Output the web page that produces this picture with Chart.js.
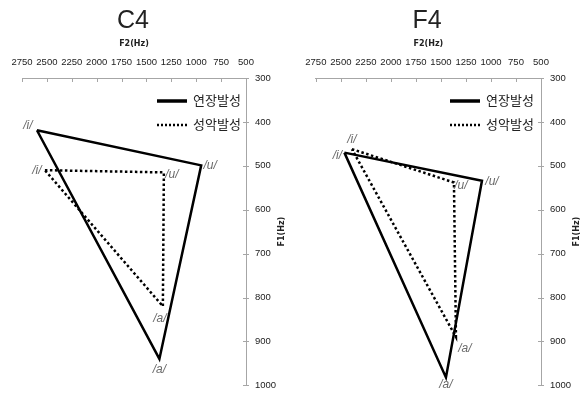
<!DOCTYPE html>
<html>
<head>
<meta charset="utf-8">
<script src="https://cdn.jsdelivr.net/npm/chart.js@4/dist/chart.umd.min.js"></script>
<style>
  body { margin: 0; background: #fff; }
  .box { position: absolute; top: 0; height: 400px; }
</style>
</head>
<body>
<div class="box" style="left:0;width:295px"><canvas id="chartC4"></canvas></div>
<div class="box" style="left:295px;width:292px"><canvas id="chartF4"></canvas></div>
<script>
// vowels in plotting order, polygon is closed back to the first one
const vowels = ['/i/', '/u/', '/a/'];
const seriesNames = ['연장발성', '성악발성'];

// C4 - F2 / F1 in Hz
const c4SolidF2 = [2600, 950, 1370];
const c4SolidF1 = [419, 499, 940];
const c4DottedF2 = [2520, 1325, 1335];
const c4DottedF1 = [510, 515, 820];

// F4
const f4SolidF2 = [2465, 1090, 1450];
const f4SolidF1 = [470, 534, 982];
const f4DottedF2 = [2390, 1370, 1350];
const f4DottedF1 = [462, 538, 890];

// axis ranges
const f2Min = 500, f2Max = 2750, f2Step = 250;
const f1Min = 300, f1Max = 1000, f1Step = 100;

const tickFont = { family: '"Liberation Sans Narrow", "Liberation Sans", sans-serif', size: 9.5 };
const axisGray = '#a6a6a6';

function toPoints(f2, f1) {
    const pts = f2.map((v, i) => ({ x: v, y: f1[i] }));
    pts.push(pts[0]); // close the triangle
    return pts;
}

// draws title, inward ticks, vowel labels, legend and F1 title
const decorPlugin = {
    id: 'decor',
    afterDraw(chart, args, opts) {
        const ctx = chart.ctx;
        const xs = chart.scales.x, ys = chart.scales.y;
        const area = chart.chartArea;
        ctx.save();

        // tick marks pointing into the plot
        ctx.strokeStyle = axisGray;
        ctx.lineWidth = 1;
        ctx.beginPath();
        xs.ticks.forEach(t => {
            const px = Math.round(xs.getPixelForValue(t.value)) + 0.5;
            ctx.moveTo(px, area.top);
            ctx.lineTo(px, area.top + 4);
        });
        ys.ticks.forEach(t => {
            const py = Math.round(ys.getPixelForValue(t.value)) + 0.5;
            ctx.moveTo(area.right - 3, py);
            ctx.lineTo(area.right + 3, py);
        });
        ctx.stroke();

        // chart title
        ctx.fillStyle = '#222';
        ctx.textAlign = 'center';
        ctx.textBaseline = 'middle';
        ctx.font = '25px "Liberation Sans", sans-serif';
        ctx.fillText(opts.title, opts.titleX, 21);

        // F1 axis title, reading bottom to top
        ctx.save();
        ctx.translate(282, (area.top + area.bottom) / 2);
        ctx.rotate(-Math.PI / 2);
        ctx.font = 'bold 8px "DejaVu Sans", sans-serif';
        ctx.fillText('F1(Hz)', 0, 0);
        ctx.restore();

        // vowel labels
        ctx.fillStyle = '#6a6a6a';
        ctx.font = 'italic 12px "Liberation Sans Narrow", "Liberation Sans", sans-serif';
        chart.data.datasets.forEach((ds, di) => {
            for (let i = 0; i < vowels.length; i++) {
                const p = ds.data[i];
                const off = opts.labelOffsets[di][i];
                ctx.fillText(vowels[i], xs.getPixelForValue(p.x) + off[0], ys.getPixelForValue(p.y) + off[1]);
            }
        });

        // legend
        const lx = opts.legendX;
        ctx.strokeStyle = '#000';
        ctx.lineWidth = 3.5;
        ctx.beginPath();
        ctx.moveTo(lx, 101);
        ctx.lineTo(lx + 30, 101);
        ctx.stroke();
        ctx.lineWidth = 2.5;
        ctx.setLineDash([2, 2]);
        ctx.beginPath();
        ctx.moveTo(lx, 125);
        ctx.lineTo(lx + 30, 125);
        ctx.stroke();
        ctx.setLineDash([]);
        ctx.fillStyle = '#222';
        ctx.textAlign = 'left';
        ctx.font = '13px "Noto Sans CJK KR", sans-serif';
        ctx.fillText(seriesNames[0], lx + 36, 100);
        ctx.fillText(seriesNames[1], lx + 36, 124);

        ctx.restore();
    }
};

function makeChart(id, cfg) {
    return new Chart(document.getElementById(id), {
        type: 'scatter',
        data: {
            datasets: [
                {
                    label: seriesNames[0],
                    data: toPoints(cfg.solidF2, cfg.solidF1),
                    showLine: true,
                    borderColor: '#000',
                    borderWidth: 2.5,
                    pointRadius: 0,
                    tension: 0
                },
                {
                    label: seriesNames[1],
                    data: toPoints(cfg.dottedF2, cfg.dottedF1),
                    showLine: true,
                    borderColor: '#000',
                    borderWidth: 2.5,
                    borderDash: [2.5, 2.5],
                    borderCapStyle: 'butt',
                    pointRadius: 0,
                    tension: 0
                }
            ]
        },
        options: {
            responsive: true,
            maintainAspectRatio: false,
            animation: false,
            layout: { padding: { left: cfg.padLeft, right: 0, top: 0, bottom: cfg.padBottom } },
            plugins: {
                legend: { display: false },
                tooltip: { enabled: false },
                decor: {
                    title: cfg.title,
                    titleX: cfg.titleX,
                    legendX: cfg.legendX,
                    labelOffsets: cfg.labelOffsets
                }
            },
            scales: {
                x: {
                    type: 'linear',
                    position: 'top',
                    reverse: true,
                    min: f2Min,
                    max: f2Max,
                    afterFit: s => { s.height = 78; },
                    ticks: {
                        stepSize: f2Step, font: tickFont, color: '#222', padding: 10.3,
                        maxRotation: 0, autoSkip: false,
                        callback: v => String(v)
                    },
                    grid: { display: true, drawOnChartArea: false, drawTicks: false },
                    border: { color: axisGray },
                    title: {
                        display: true,
                        text: 'F2(Hz)',
                        color: '#222',
                        font: { family: '"DejaVu Sans", sans-serif', size: 8, weight: 'bold' },
                        padding: { top: 39.2, bottom: 0 }
                    }
                },
                y: {
                    type: 'linear',
                    position: 'right',
                    reverse: true,
                    min: f1Min,
                    max: f1Max,
                    afterFit: s => { s.width = cfg.yWidth; },
                    ticks: {
                        stepSize: f1Step, font: tickFont, color: '#222', padding: 9,
                        autoSkip: false,
                        callback: v => String(v)
                    },
                    grid: { display: true, drawOnChartArea: false, drawTicks: false },
                    border: { color: axisGray }
                }
            }
        },
        plugins: [decorPlugin]
    });
}

makeChart('chartC4', {
    title: 'C4', titleX: 133,
    solidF2: c4SolidF2, solidF1: c4SolidF1,
    dottedF2: c4DottedF2, dottedF1: c4DottedF1,
    padLeft: 22, padBottom: 6, yWidth: 49, legendX: 157,
    labelOffsets: [
        [[-9, -5], [9, 0], [0, 11]],
        [[-8, 0], [8, 2], [-3, 12]]
    ]
});

makeChart('chartF4', {
    title: 'F4', titleX: 132,
    solidF2: f4SolidF2, solidF1: f4SolidF1,
    dottedF2: f4DottedF2, dottedF1: f4DottedF1,
    padLeft: 16.7, padBottom: 7, yWidth: 46, legendX: 155,
    labelOffsets: [
        [[-7, 3], [10, 1], [0, 7]],
        [[0, -9], [7, 3], [9, 12]]
    ]
});
</script>
</body>
</html>
